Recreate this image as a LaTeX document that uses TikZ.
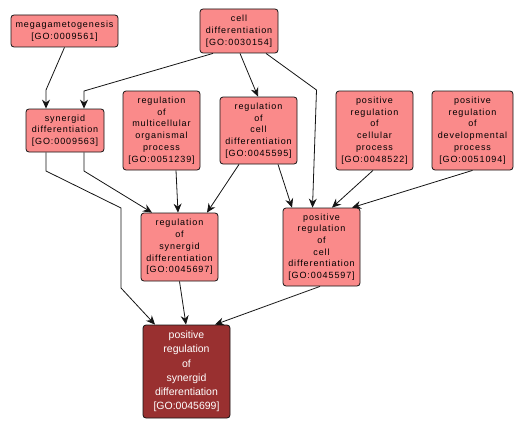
\documentclass[tikz,border=0pt]{standalone}
\usepackage{fontspec}
\usetikzlibrary{arrows.meta}
\newfontfamily\lab[LetterSpace=10]{Liberation Sans}
\newfontfamily\labd{Liberation Sans}
\definecolor{lightred}{RGB}{250,138,138}
\definecolor{darkred}{RGB}{153,48,48}
\definecolor{edgeblk}{RGB}{20,20,20}
\begin{document}
\begin{tikzpicture}[x=1pt,y=-1pt,
  term/.style={draw=edgeblk, line width=0.8pt, rounded corners=3pt, fill=lightred,
    align=center, inner sep=0pt, font=\lab\fontsize{9}{11.7}\selectfont},
  target/.style={term, fill=darkred, text=white, font=\labd\fontsize{10.5}{14.2}\selectfont},
  edge/.style={draw=edgeblk, line width=0.8pt, -{Stealth[length=9pt,width=8pt,inset=3pt]}}]
\useasboundingbox (0,0) rectangle (527,428);
\node[term, minimum width=107pt, minimum height=32pt] (mg) at (64.5,31) {megagametogenesis\\{}[GO:0009561]};
\node[term, minimum width=78pt, minimum height=44pt] (cd) at (239,31) {cell\\differentiation\\{}[GO:0030154]};
\node[term, minimum width=78pt, minimum height=43pt] (sd) at (65,130.5) {synergid\\differentiation\\{}[GO:0009563]};
\node[term, minimum width=77pt, minimum height=79pt] (rm) at (161.5,130.5) {regulation\\of\\multicellular\\organismal\\process\\{}[GO:0051239]};
\node[term, minimum width=77pt, minimum height=67pt] (rc) at (258.5,130.5) {regulation\\of\\cell\\differentiation\\{}[GO:0045595]};
\node[term, minimum width=77pt, minimum height=79pt] (pc) at (374.5,130.5) {positive\\regulation\\of\\cellular\\process\\{}[GO:0048522]};
\node[term, minimum width=81pt, minimum height=79pt] (pd) at (472.5,130.5) {positive\\regulation\\of\\developmental\\process\\{}[GO:0051094]};
\node[term, minimum width=77pt, minimum height=68pt] (rs) at (179.5,247) {regulation\\of\\synergid\\differentiation\\{}[GO:0045697]};
\node[term, minimum width=77pt, minimum height=78pt] (prc) at (321.5,247) {positive\\regulation\\of\\cell\\differentiation\\{}[GO:0045597]};
\node[target, minimum width=87pt, minimum height=93pt] (prs) at (186.5,371.5) {positive\\regulation\\of\\synergid\\differentiation\\{}[GO:0045699]};
\coordinate (b1) at (46,90);
\coordinate (b2) at (84,91);
\coordinate (b3) at (316.5,90);
\coordinate (b4) at (84,171);
\coordinate (b5) at (46,171);
\coordinate (b6) at (121,208);
\coordinate (b7) at (121,288);
\path[edge] (mg.south) -- (b1) -- ([xshift=-19pt]sd.north);
\path[edge] ([xshift=-26pt]cd.south) -- (b2) -- ([xshift=19pt]sd.north);
\path[edge] ([xshift=1pt]cd.south) -- ([xshift=-0.5pt]rc.north);
\path[edge] ([xshift=27pt]cd.south) -- (b3) -- ([xshift=-9pt]prc.north);
\path[edge] ([xshift=19pt]sd.south) -- (b4) -- ([xshift=-27.5pt]rs.north);
\path[edge] ([xshift=-19pt]sd.south) -- (b5) -- (b6) -- (b7) -- ([xshift=-31.5pt]prs.north);
\path[edge] ([xshift=14.5pt]rm.south) -- ([xshift=-1.5pt]rs.north);
\path[edge] ([xshift=-19.5pt]rc.south) -- ([xshift=27.5pt]rs.north);
\path[edge] ([xshift=19.5pt]rc.south) -- ([xshift=-29.5pt]prc.north);
\path[edge] ([xshift=-1.5pt]pc.south) -- ([xshift=10.5pt]prc.north);
\path[edge] (pd.south) -- ([xshift=30.5pt]prc.north);
\path[edge] (rs.south) -- ([xshift=-0.5pt]prs.north);
\path[edge] ([xshift=-1.5pt]prc.south) -- ([xshift=28.5pt]prs.north);
\end{tikzpicture}
\end{document}
